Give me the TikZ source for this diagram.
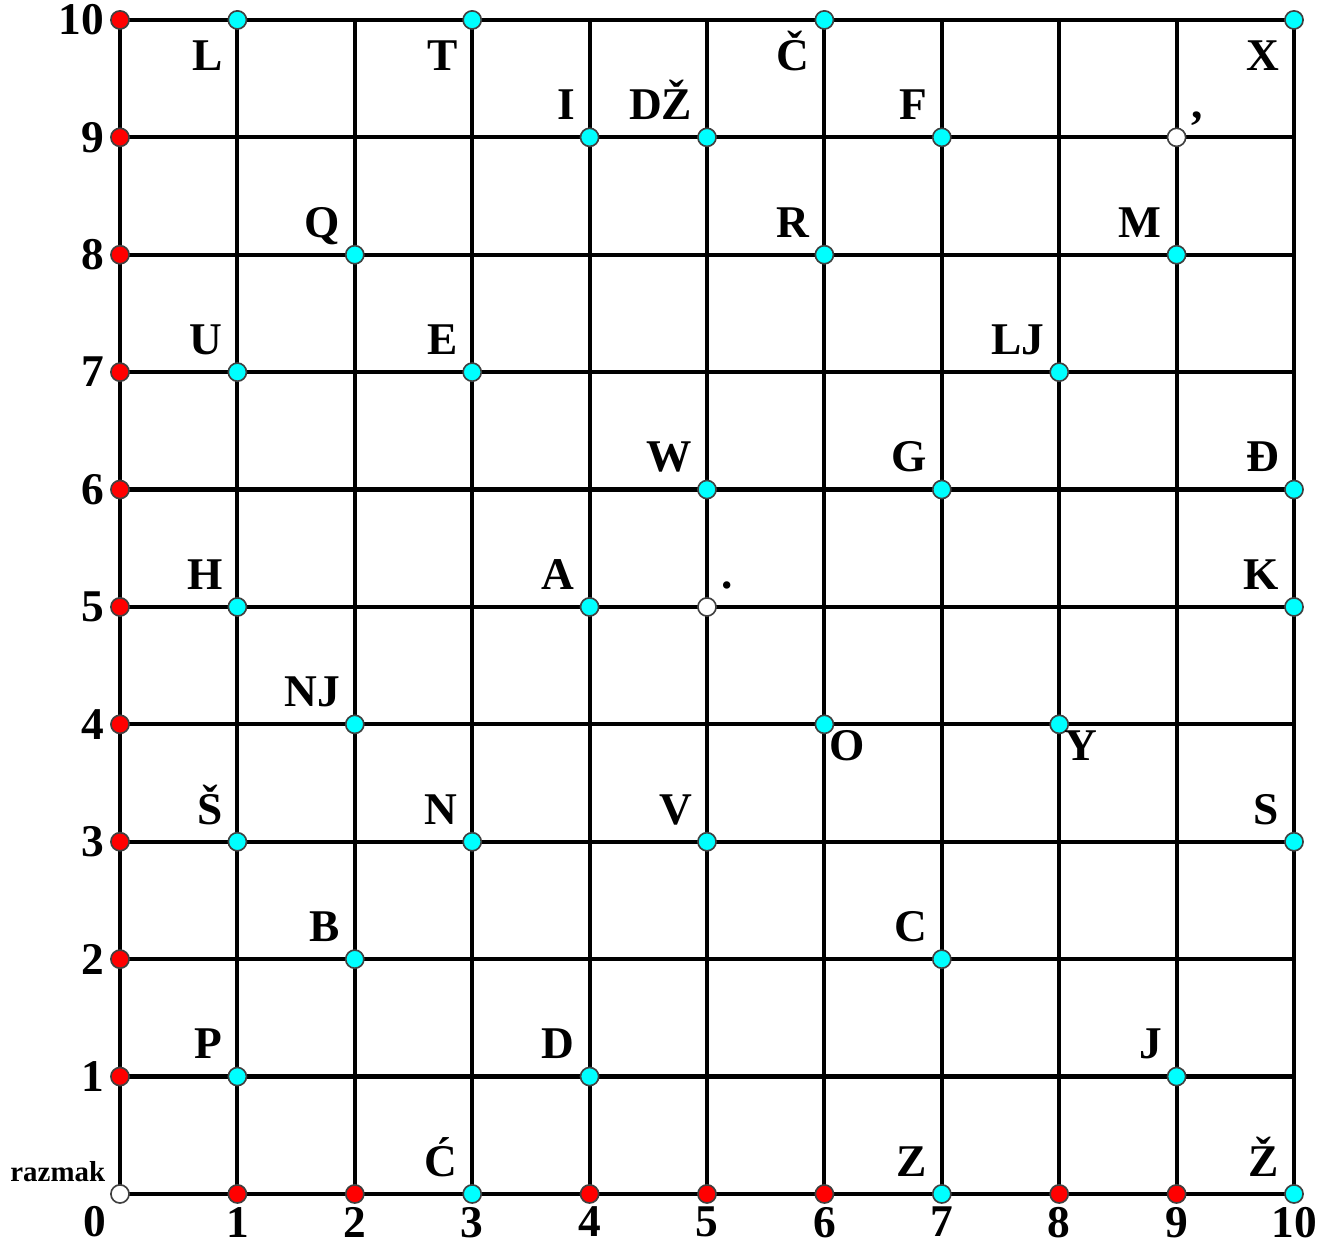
\documentclass[tikz,border=0pt]{standalone}
\usepackage{fontspec}
\setmainfont{Liberation Serif}
\definecolor{aqua}{RGB}{0,255,255}
\definecolor{pointred}{RGB}{255,0,0}
\tikzset{
  gridline/.style={line width=1pt},
  dot/.style={circle, draw=black!75, line width=0.4pt, inner sep=0pt, minimum size=4.4pt},
  reddot/.style={dot, fill=pointred},
  cyandot/.style={dot, fill=aqua},
  whitedot/.style={dot, fill=white},
  letter/.style={font=\fontsize{11}{13}\selectfont\bfseries, inner sep=0pt},
  axisnum/.style={font=\fontsize{11}{13}\selectfont\bfseries, inner sep=0pt},
  smalltext/.style={font=\fontsize{7}{8}\selectfont\bfseries, inner sep=0pt}
}
\begin{document}
\begin{tikzpicture}[x=1cm, y=1cm]
    \useasboundingbox (-1.022,-0.417) rectangle (10.213,10.17);
    \draw[gridline] (0,0) grid (10,10);

    % axis numbers
    \foreach \n in {1,...,10} {
        \node[axisnum, anchor=east] (ny\n) at (-0.13,\n) {\n};
        \node[axisnum, anchor=north] (nx\n) at (\n,-0.105) {\n};
    }
    \node[axisnum, anchor=north] (n0) at (-0.21,-0.1) {0};

    % red points on the axes
    \foreach \y in {1,...,10}
        \node[reddot] (ry\y) at (0,\y) {};
    \foreach \x in {1,2,4,5,6,8,9}
        \node[reddot] (rx\x) at (\x,0) {};

    % blank points
    \node[whitedot] (space) at (0,0) {};
    \node[whitedot] (dot) at (5,5) {};
    \node[whitedot] (comma) at (9,9) {};
    \node[smalltext, anchor=base east] (spacetext) at ([shift={(-0.12,0.11)}]space.center) {razmak};
    \node[letter, anchor=base west] (dottext) at ([shift={(0.12,0.16)}]dot.center) {.};
    \node[letter, anchor=base west] (commatext) at ([shift={(0.12,0.16)}]comma.center) {,};

    % letters, label above left
    \foreach \x/\y/\t [count=\i] in {4/9/I, 5/9/DŽ, 7/9/F, 2/8/Q, 6/8/R, 9/8/M,
        1/7/U, 3/7/E, 8/7/LJ, 5/6/W, 7/6/G, 10/6/Đ, 1/5/H, 4/5/A, 10/5/K,
        2/4/NJ, 1/3/Š, 3/3/N, 5/3/V, 10/3/S, 2/2/B, 7/2/C, 1/1/P, 4/1/D,
        9/1/J, 3/0/Ć, 7/0/Z, 10/0/Ž} {
        \node[cyandot] (a\i) at (\x,\y) {};
        \node[letter, anchor=base east] (at\i) at ([shift={(-0.12,0.15)}]a\i.center) {\t};
    }

    % letters on the top row, label below left
    \foreach \x/\t [count=\i] in {1/L, 3/T, 6/Č, 10/X} {
        \node[cyandot] (b\i) at (\x,10) {};
        \node[letter, anchor=base east] (bt\i) at ([shift={(-0.12,-0.43)}]b\i.center) {\t};
    }

    % label below right
    \foreach \x/\t [count=\i] in {6/O, 8/Y} {
        \node[cyandot] (c\i) at (\x,4) {};
        \node[letter, anchor=base west] (ct\i) at ([shift={(0.04,-0.31)}]c\i.center) {\t};
    }
\end{tikzpicture}
\end{document}
